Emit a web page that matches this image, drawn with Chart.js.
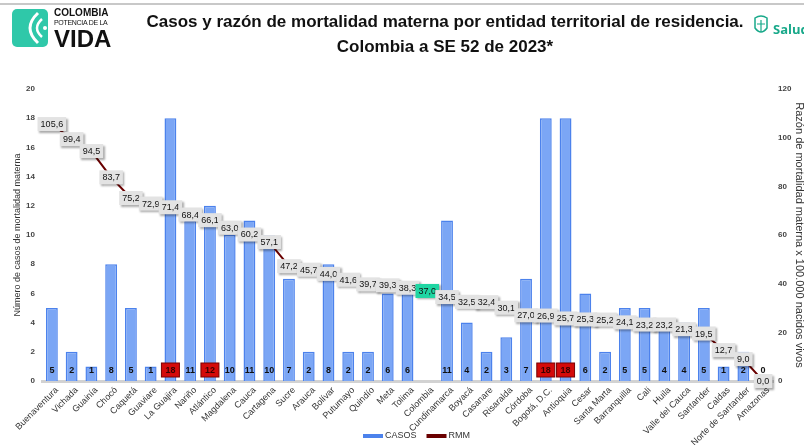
<!DOCTYPE html>
<html>
<head>
<meta charset="utf-8">
<script src="https://cdn.jsdelivr.net/npm/chart.js@4.4.0/dist/chart.umd.min.js"></script>
<style>
  html, body { margin: 0; padding: 0; background: #fff; overflow: hidden; }
  body { width: 804px; height: 445px; position: relative; font-family: "Liberation Sans", Arial, sans-serif; }
  #wrap { position: absolute; left: 0; top: 0; width: 808px; height: 445px; }
  .topline { position: absolute; left: 0; top: 3px; width: 804px; height: 2px; background: #c8c8c8; }
  .title { position: absolute; left: 0; width: 890px; text-align: center; font-family: "Liberation Sans Narrow", "Liberation Sans", sans-serif; font-weight: bold; font-size: 17px; color: #111; }
  .logo { position: absolute; left: 12px; top: 9px; }
  .logo-txt { position: absolute; left: 54px; top: 7px; color: #111; font-family: "Liberation Sans", Arial, sans-serif; }
  .salud { position: absolute; left: 773px; top: 20px; color: #19a98a; font-weight: bold; font-size: 13px; font-family: "Open Sans", sans-serif; white-space: nowrap; }
</style>
</head>
<body>
<div id="wrap"><canvas id="chart" width="808" height="445"></canvas></div>
<div class="topline"></div>
<svg class="logo" width="36" height="38" viewBox="0 0 36 38">
  <rect x="0" y="0" width="36" height="38" rx="5" fill="#2fc8a9"/>
  <path d="M26 4 Q10 19 26 34" stroke="#fff" stroke-width="3" fill="none"/>
  <path d="M30 10 Q20 19 30 28" stroke="#fff" stroke-width="2.5" fill="none"/>
  <circle cx="33" cy="19" r="2" fill="#fff"/>
</svg>
<div class="logo-txt">
  <div style="font-weight:bold;font-size:10px;line-height:11px;">COLOMBIA</div>
  <div style="font-size:7px;line-height:9px;letter-spacing:-0.3px;">POTENCIA DE LA</div>
  <div style="font-weight:bold;font-size:24px;line-height:24px;">VIDA</div>
</div>
<div class="title" style="top:12px;">Casos y razón de mortalidad materna por entidad territorial de residencia.</div>
<div class="title" style="top:37px;">Colombia a SE 52 de 2023*</div>
<svg style="position:absolute;left:752px;top:14px" width="18" height="24" viewBox="0 0 18 24">
  <path d="M3 4 Q9 0 15 4 L15 14 Q9 22 3 14 Z" stroke="#19a98a" stroke-width="1.5" fill="none"/>
  <path d="M9 6 L9 18 M5 10 L13 10" stroke="#19a98a" stroke-width="1.2"/>
</svg>
<div class="salud">Salud</div>
<script>
const categories = ['Buenaventura', 'Vichada', 'Guainía', 'Chocó', 'Caquetá', 'Guaviare', 'La Guajira', 'Nariño',
  'Atlántico', 'Magdalena', 'Cauca', 'Cartagena', 'Sucre', 'Arauca', 'Bolívar', 'Putumayo', 'Quindío', 'Meta',
  'Tolima', 'Colombia', 'Cundinamarca', 'Boyacá', 'Casanare', 'Risaralda', 'Córdoba', 'Bogotá, D.C.', 'Antioquia',
  'Cesar', 'Santa Marta', 'Barranquilla', 'Cali', 'Huila', 'Valle del Cauca', 'Santander', 'Caldas',
  'Norte de Santander', 'Amazonas'];
const casos = [5, 2, 1, 8, 5, 1, 18, 11, 12, 10, 11, 10, 7, 2, 8, 2, 2, 6, 6, null, 11, 4, 2, 3, 7, 18, 18,
  6, 2, 5, 5, 4, 4, 5, 1, 2, 0];
const rmm = [105.6, 99.4, 94.5, 83.7, 75.2, 72.9, 71.4, 68.4, 66.1, 63.0, 60.2, 57.1, 47.2, 45.7, 44.0, 41.6,
  39.7, 39.3, 38.3, 37.0, 34.5, 32.5, 32.4, 30.1, 27.0, 26.9, 25.7, 25.3, 25.2, 24.1, 23.2, 23.2, 21.3, 19.5,
  12.7, 9.0, 0.0];
const casosTicks = [0, 2, 4, 6, 8, 10, 12, 14, 16, 18, 20];
const rmmTicks = [0, 20, 40, 60, 80, 100, 120];

// etiquetas de barras y de la línea
const labelsPlugin = {
  id: 'labels',
  afterDatasetsDraw(chart) {
    const ctx = chart.ctx;
    const bars = chart.getDatasetMeta(1).data;
    const yb = chart.scales.y.bottom;
    ctx.save();
    ctx.textAlign = 'center';
    ctx.textBaseline = 'middle';
    ctx.font = 'bold 9px "Liberation Sans", Arial';
    bars.forEach((el, i) => {
      const v = casos[i];
      if (v === null) return;
      const cy = yb - 11;
      if (v >= 12) {
        ctx.fillStyle = '#d40a0a';
        ctx.fillRect(el.x - 9, cy - 7, 18, 14);
        ctx.strokeStyle = '#7a0000';
        ctx.lineWidth = 1;
        ctx.strokeRect(el.x - 9, cy - 7, 18, 14);
        ctx.fillStyle = '#3a0000';
      } else {
        ctx.fillStyle = '#111';
      }
      ctx.fillText(String(v), el.x, cy + 0.5);
    });
    const pts = chart.getDatasetMeta(0).data;
    ctx.font = '9px "Liberation Sans", Arial';
    pts.forEach((p, i) => {
      const t = rmm[i].toFixed(1).replace('.', ',');
      const w = ctx.measureText(t).width + 6;
      ctx.save();
      ctx.shadowColor = 'rgba(0,0,0,0.35)';
      ctx.shadowOffsetX = 1.5;
      ctx.shadowOffsetY = 1.5;
      ctx.shadowBlur = 2;
      ctx.fillStyle = categories[i] === 'Colombia' ? '#1fd6a3' : '#e3e3e3';
      ctx.fillRect(p.x - w / 2, p.y - 7, w, 14);
      ctx.restore();
      ctx.fillStyle = '#111';
      ctx.fillText(t, p.x, p.y + 0.5);
    });
    ctx.restore();
  },
  // leyenda entre las etiquetas del eje x, como en el original
  afterDraw(chart) {
    const ctx = chart.ctx;
    const ds = chart.data.datasets;
    const y = 436;
    let x = 363;
    ctx.save();
    ctx.font = '9px "Liberation Sans", Arial';
    ctx.textBaseline = 'middle';
    ctx.textAlign = 'left';
    [ds[1], ds[0]].forEach(d => {
      ctx.fillStyle = d.type === 'line' ? d.borderColor : d.borderColor;
      ctx.fillRect(x, y - 2, 20, 4);
      ctx.fillStyle = '#333';
      ctx.fillText(d.label, x + 22, y);
      x += 22 + ctx.measureText(d.label).width + 10;
    });
    ctx.restore();
  }
};

new Chart(document.getElementById('chart'), {
  type: 'bar',
  data: {
    labels: categories,
    datasets: [{
      type: 'line',
      label: 'RMM',
      data: rmm,
      yAxisID: 'y1',
      borderColor: '#6a0000',
      backgroundColor: '#6a0000',
      borderWidth: 2,
      pointRadius: 0,
      tension: 0,
      order: 0
    }, {
      label: 'CASOS',
      data: casos,
      yAxisID: 'y',
      backgroundColor: '#7ba6f5',
      borderColor: '#4c82ec',
      borderWidth: 1.5,
      barPercentage: 0.6,
      categoryPercentage: 1,
      order: 1
    }]
  },
  options: {
    responsive: false,
    animation: false,
    devicePixelRatio: 1,
    layout: { padding: { top: 89, left: 8, right: 0, bottom: 0 } },
    plugins: {
      legend: { display: false },
      tooltip: { enabled: false }
    },
    scales: {
      x: {
        offset: true,
        grid: { display: false, drawTicks: false },
        border: { color: '#d2d2d2', width: 3 },
        ticks: {
          autoSkip: false,
          minRotation: 45,
          maxRotation: 45,
          padding: 4,
          labelOffset: 5,
          color: '#333',
          font: { size: 9, family: '"Liberation Sans", Arial' }
        },
        afterFit(scale) { scale.height = 64; }
      },
      y: {
        position: 'left',
        min: 0,
        max: 20,
        afterBuildTicks(scale) { scale.ticks = casosTicks.map(v => ({ value: v })); },
        grid: { display: false, drawTicks: false },
        border: { display: false },
        ticks: { color: '#444', padding: 7, font: { size: 8, weight: 'bold', family: '"Liberation Sans", Arial' } },
        title: {
          display: true,
          text: 'Número de casos de mortalidad materna',
          color: '#333',
          padding: 4,
          font: { size: 9, family: '"Liberation Sans", Arial' }
        },
        afterFit(scale) { scale.width = 34; }
      },
      y1: {
        position: 'right',
        min: 0,
        max: 120,
        afterBuildTicks(scale) { scale.ticks = rmmTicks.map(v => ({ value: v })); },
        grid: { display: false, drawTicks: false },
        border: { display: false },
        ticks: { color: '#444', padding: 5, font: { size: 8, weight: 'bold', family: '"Liberation Sans", Arial' } },
        title: {
          display: true,
          text: 'Razón de mortalidad materna x 100.000 nacidos vivos',
          color: '#333',
          padding: 2,
          font: { size: 11, family: '"Liberation Sans", Arial' }
        },
        afterFit(scale) { scale.width = 35; }
      }
    }
  },
  plugins: [labelsPlugin]
});
</script>
</body>
</html>
